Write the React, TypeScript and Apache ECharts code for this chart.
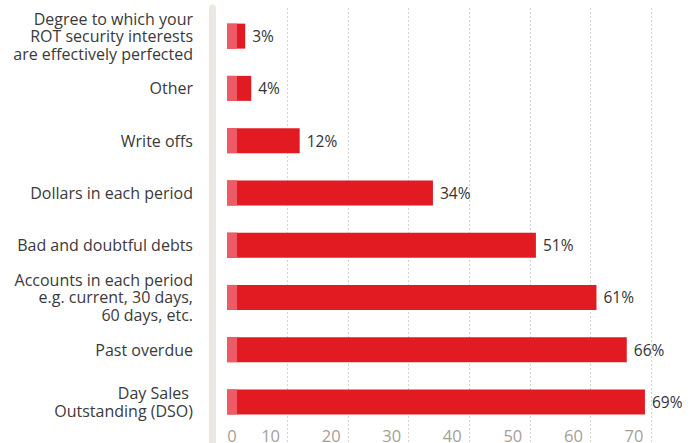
import React, { useEffect, useRef } from "react";
import * as echarts from "echarts";

const categories = [
  "Degree to which your\nROT security interests\nare effectively perfected",
  "Other",
  "Write offs",
  "Dollars in each period",
  "Bad and doubtful debts",
  "Accounts in each period\ne.g. current, 30 days,\n60 days, etc.",
  "Past overdue",
  "Day Sales \nOutstanding (DSO)",
];
const values = [3, 4, 12, 34, 51, 61, 66, 69];
const accentStub = 1.65; // light lead-in segment at start of each bar
const xTicks = [0, 10, 20, 30, 40, 50, 60, 70];

const FONT = "'Open Sans', sans-serif";

export default function App() {
  const ref = useRef<HTMLDivElement>(null);
  useEffect(() => {
    document.body.style.margin = "0";
    if (!ref.current) return;
    const chart = echarts.init(ref.current, null, { renderer: "svg" });
    const xMin = xTicks[0];
    const xMax = xTicks[xTicks.length - 1];
    chart.setOption({
      animation: false,
      textStyle: { fontFamily: FONT },
      grid: [
        { left: 227, right: 49, top: 10, bottom: 15, containLabel: false, outerBoundsMode: "none" },
        { left: 227, right: 49, top: 8, bottom: 0, containLabel: false, outerBoundsMode: "none" },
      ],
      xAxis: [
        {
          gridIndex: 0,
          type: "value",
          min: xMin,
          max: xMax,
          interval: 10,
          axisLine: { show: false },
          axisTick: { show: false },
          splitLine: { show: false },
          axisLabel: {
            margin: -1,
            formatter: (v: number) => (v === 0 ? "{z|0}" : "{n|" + v + "}"),
            rich: {
              z: { fontSize: 16.5, lineHeight: 16, color: "#a69e96", fontFamily: FONT, padding: [0, 0, 0, 10] },
              n: { fontSize: 16.5, lineHeight: 16, color: "#a69e96", fontFamily: FONT, padding: [0, 34, 0, 0] },
            },
          },
        },
        {
          gridIndex: 1,
          type: "value",
          min: xMin,
          max: xMax,
          interval: 10,
          axisLine: { show: false },
          axisTick: { show: false },
          axisLabel: { show: false },
          splitLine: {
            show: true,
            showMinLine: false,
            lineStyle: { color: "#d6d2cd", type: [2, 2], width: 1 },
          },
        },
      ],
      yAxis: [
        {
          gridIndex: 0,
          type: "category",
          data: categories,
          inverse: true,
          offset: 15,
          axisLine: { show: false },
          axisTick: { show: false },
          axisLabel: {
            margin: 19,
            fontSize: 16,
            lineHeight: 17.5,
            color: "#3a3a3a",
            fontFamily: FONT,
            align: "right",
          },
        },
        {
          gridIndex: 1,
          type: "value",
          offset: 15,
          axisLine: { show: true, onZero: false, lineStyle: { color: "#ebe7e2", width: 7 } },
          axisTick: { show: false },
          axisLabel: { show: false },
          splitLine: { show: false },
        },
      ],
      series: [
        {
          type: "bar",
          xAxisIndex: 0,
          yAxisIndex: 0,
          data: values,
          barWidth: 25,
          itemStyle: { color: "#e21b23" },
          label: {
            show: true,
            position: "right",
            distance: 7,
            formatter: "{c}%",
            fontSize: 15.5,
            color: "#333333",
            fontFamily: FONT,
          },
        },
        {
          type: "bar",
          xAxisIndex: 0,
          yAxisIndex: 0,
          data: values.map(() => accentStub),
          barWidth: 25,
          barGap: "-100%",
          silent: true,
          itemStyle: { color: "#ec5b66" },
        },
      ],
    });
    return () => chart.dispose();
  }, []);
  return <div ref={ref} style={{ width: 700, height: 443 }} />;
}
